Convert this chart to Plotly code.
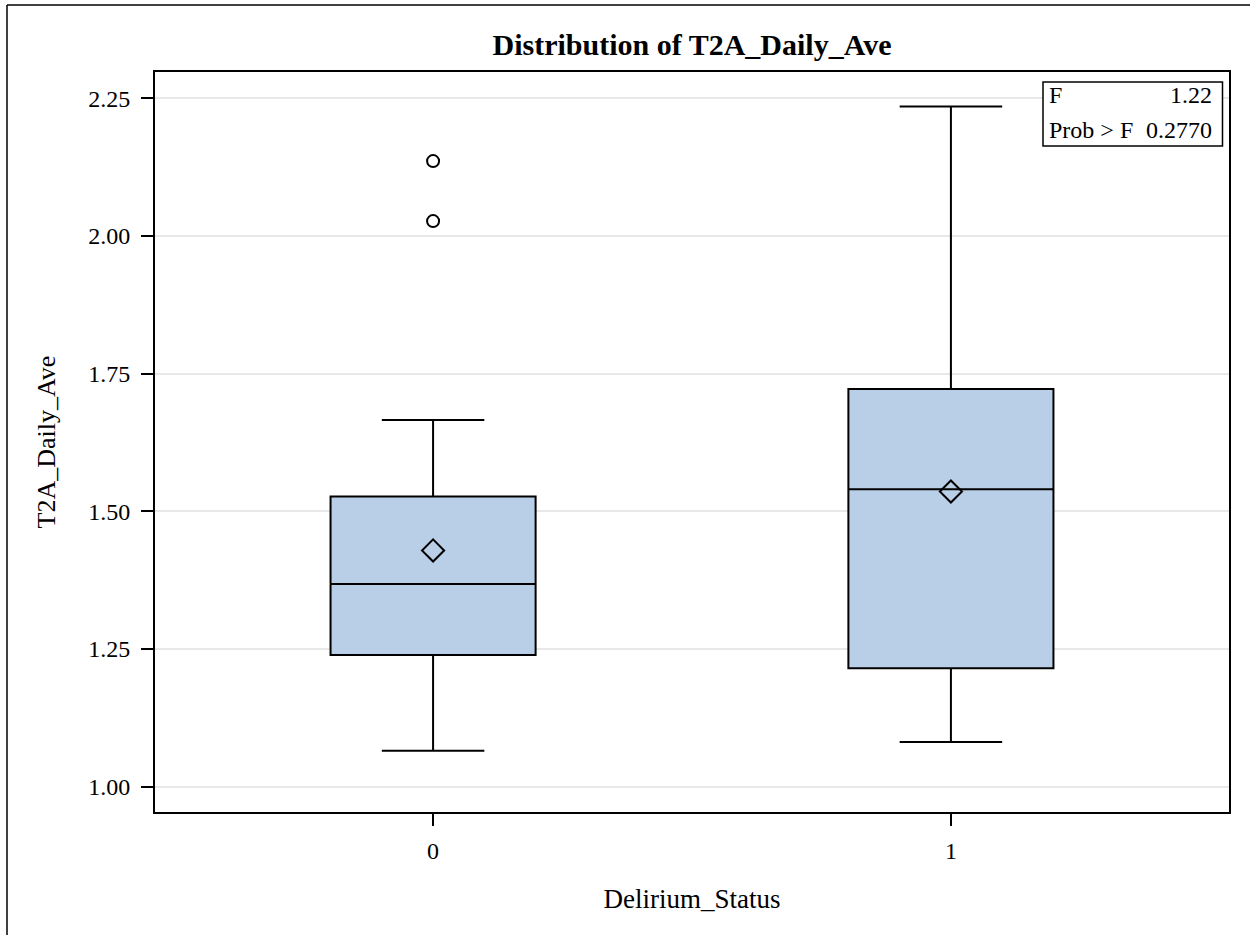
import plotly.graph_objects as go

# ---- data ----
groups = [0, 1]
q1_vals = [1.239, 1.215]
median_vals = [1.368, 1.540]
q3_vals = [1.527, 1.722]
lower_whisker = [1.065, 1.081]
upper_whisker = [1.666, 2.235]
mean_vals = [1.429, 1.536]
outlier_group = [0, 0]
outlier_vals = [2.136, 2.027]
y_ticks = [1.00, 1.25, 1.50, 1.75, 2.00, 2.25]
x_ticks = [0, 1]
f_value = "1.22"
p_value = "0.2770"

FONT = "Liberation Serif, Times New Roman, serif"
FILL = "#B9CFE7"

W, H = 1250, 935
L, R, T, B = 155, 1229, 72, 812  # plot area in pixels


def px(xp):
    return (xp - L) / (R - L)


def py(yp):
    return (B - yp) / (B - T)


fig = go.Figure()

for i, g in enumerate(groups):
    fig.add_trace(go.Box(
        x=[g],
        q1=[q1_vals[i]],
        median=[median_vals[i]],
        q3=[q3_vals[i]],
        lowerfence=[lower_whisker[i]],
        upperfence=[upper_whisker[i]],
        width=0.396,
        whiskerwidth=0.5,
        fillcolor=FILL,
        line=dict(color="black", width=2),
        boxpoints=False,
        showlegend=False,
        hoverinfo="skip",
    ))

fig.add_trace(go.Scatter(
    x=groups, y=mean_vals, mode="markers",
    marker=dict(symbol="diamond-open", size=17, color="black", line=dict(width=2, color="black")),
    showlegend=False, hoverinfo="skip",
))
fig.add_trace(go.Scatter(
    x=outlier_group, y=outlier_vals, mode="markers",
    marker=dict(symbol="circle-open", size=12, color="black", line=dict(width=2, color="black")),
    showlegend=False, hoverinfo="skip",
))

fig.update_layout(
    width=W, height=H,
    margin=dict(l=L, r=W - R, t=T, b=H - B, autoexpand=False),
    paper_bgcolor="white", plot_bgcolor="white",
    font=dict(family=FONT, color="black", size=24),
    title=dict(
        text="<b>Distribution of T2A_Daily_Ave</b>",
        x=0.5, xref="paper", xanchor="center",
        y=1 - 44 / H, yref="container", yanchor="middle",
        font=dict(family=FONT, size=30, color="black"),
    ),
    xaxis=dict(
        range=[-0.537, 1.537], tickvals=x_ticks, ticktext=[str(v) for v in x_ticks],
        showgrid=False, zeroline=False,
        showline=True, linecolor="black", linewidth=2, mirror=True,
        ticks="outside", ticklen=12, tickwidth=2, tickcolor="black",
        ticklabelstandoff=4,
        tickfont=dict(family=FONT, size=24, color="black"),
        title=dict(text="Delirium_Status", standoff=26,
                   font=dict(family=FONT, size=27, color="black")),
    ),
    yaxis=dict(
        range=[0.954, 2.2978], tickvals=y_ticks, ticktext=[f"{v:.2f}" for v in y_ticks],
        showgrid=True, gridcolor="#E8E8E8", gridwidth=1.5, zeroline=False,
        showline=True, linecolor="black", linewidth=2, mirror=True,
        ticks="outside", ticklen=12, tickwidth=2, tickcolor="black",
        ticklabelstandoff=6,
        tickfont=dict(family=FONT, size=24, color="black"),
        title=dict(text="T2A_Daily_Ave", standoff=25,
                   font=dict(family=FONT, size=26, color="black")),
    ),
    shapes=[
        # inset statistics box
        dict(type="rect", xref="paper", yref="paper",
             x0=px(1043), x1=px(1222.5), y0=py(146), y1=py(82),
             line=dict(color="black", width=1.5), fillcolor="white", layer="above"),
        # outer frame (left and top edges visible)
        dict(type="line", xref="paper", yref="paper",
             x0=px(7), x1=px(7), y0=py(935), y1=py(5),
             line=dict(color="black", width=1.5)),
        dict(type="line", xref="paper", yref="paper",
             x0=px(7), x1=px(1260), y0=py(5), y1=py(5),
             line=dict(color="black", width=1.5)),
    ],
    annotations=[
        dict(text="F", xref="paper", yref="paper", x=px(1047), y=py(95),
             xanchor="left", yanchor="middle", showarrow=False,
             font=dict(family=FONT, size=24, color="black")),
        dict(text=f_value, xref="paper", yref="paper", x=px(1214), y=py(95),
             xanchor="right", yanchor="middle", showarrow=False,
             font=dict(family=FONT, size=24, color="black")),
        dict(text="Prob &gt; F", xref="paper", yref="paper", x=px(1047), y=py(130),
             xanchor="left", yanchor="middle", showarrow=False,
             font=dict(family=FONT, size=24, color="black")),
        dict(text=p_value, xref="paper", yref="paper", x=px(1214), y=py(130),
             xanchor="right", yanchor="middle", showarrow=False,
             font=dict(family=FONT, size=24, color="black")),
    ],
)

fig.write_html("out.html", config={"displayModeBar": False},
               post_script="document.body.style.margin='0';")
